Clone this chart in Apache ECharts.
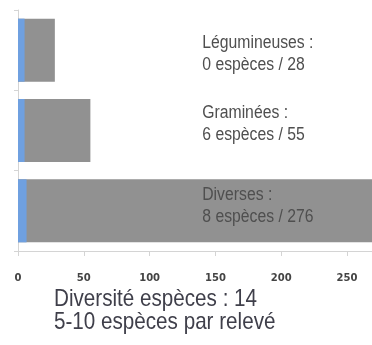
<!DOCTYPE html>
<html>
<head>
<meta charset="utf-8">
<style>html,body{margin:0;padding:0;background:#fff;}#c{width:372px;height:345px;}</style>
<script src="https://cdn.jsdelivr.net/npm/echarts@6/dist/echarts.min.js"></script>
</head>
<body>
<div id="c"></div>
<script>
var categories = ['Légumineuses', 'Graminées', 'Diverses'];
var totalValues = [28, 55, 276];
var blueValues = [5, 5, 6.5];
var speciesCounts = [0, 6, 8];
var annotationX = 140;
var xTicks = [0, 50, 100, 150, 200, 250];
var footerLines = ['Diversité espèces : 14', '5-10 espèces par relevé'];

var labelOffsets = [4, -6, -5];

var chart = echarts.init(document.getElementById('c'));
chart.setOption({
  animation: false,
  grid: { left: 18, right: -14.5, top: 10, bottom: 94, containLabel: false, outerBoundsMode: 'none' },
  xAxis: {
    type: 'value', min: 0, max: 280, interval: 50,
    splitLine: { show: false },
    axisLine: { show: true, lineStyle: { color: '#d4d4d4', width: 1 } },
    axisTick: { show: true, length: 5, lineStyle: { color: '#d4d4d4' } },
    axisLabel: {
      margin: 22, showMaxLabel: false, hideOverlap: false,
      fontFamily: '"DejaVu Sans", sans-serif', fontSize: 10, fontWeight: 'bold', color: '#444',
      formatter: function (v) { return xTicks.indexOf(v) >= 0 ? String(v) : ''; }
    }
  },
  yAxis: {
    type: 'category', data: categories, inverse: true,
    axisLine: { show: true, lineStyle: { color: '#d4d4d4' } },
    axisTick: { show: true, length: 4, lineStyle: { color: '#d4d4d4' } },
    axisLabel: { show: false }
  },
  series: [
    {
      type: 'bar', data: totalValues, barWidth: 63, barGap: '-100%',
      itemStyle: { color: '#919191' }, silent: true
    },
    {
      type: 'bar', data: blueValues, barWidth: 63, barGap: '-100%',
      itemStyle: { color: '#6fa0e0' }, silent: true
    }
  ]
});

var graphics = categories.map(function (c, i) {
  var p = chart.convertToPixel({ gridIndex: 0 }, [annotationX, i]);
  return {
    type: 'text', x: p[0], y: p[1] + labelOffsets[i], scaleX: 0.875, z: 100, silent: true,
    style: {
      text: c + ' :\n' + speciesCounts[i] + ' espèces / ' + totalValues[i],
      fontFamily: '"Liberation Sans", Arial, sans-serif', fontSize: 18, lineHeight: 22,
      fill: '#4f4f4f', align: 'left', verticalAlign: 'middle'
    }
  };
});
graphics.push({
  type: 'text', x: 54, y: 311, scaleX: 0.86, z: 100, silent: true,
  style: {
    text: footerLines.join('\n'),
    fontFamily: '"Liberation Sans", Arial, sans-serif', fontSize: 24, lineHeight: 23,
    fill: '#3f3f4a', align: 'left', verticalAlign: 'middle'
  }
});
chart.setOption({ graphic: graphics });
</script>
</body>
</html>
